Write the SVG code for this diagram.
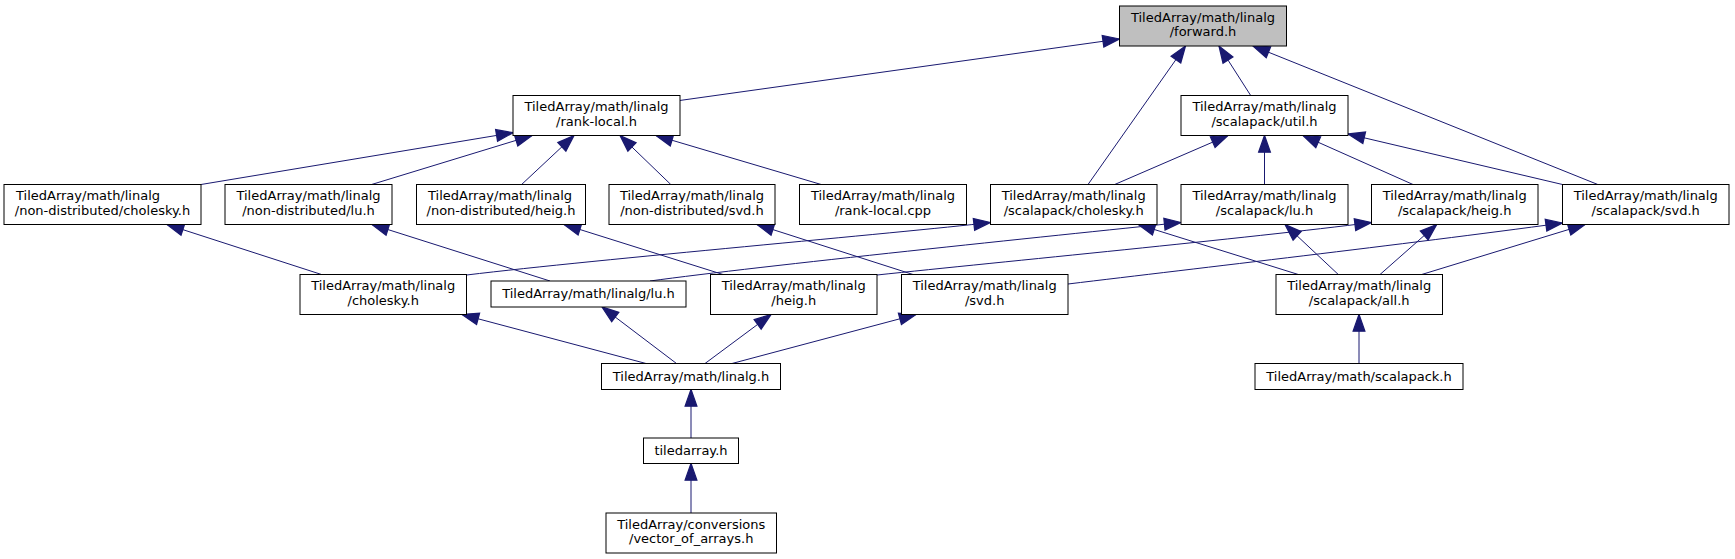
<svg xmlns="http://www.w3.org/2000/svg" width="1735" height="559" viewBox="0 0 1735 559">
<style>
.n rect{fill:#ffffff;stroke:#000000;stroke-width:1}
.n.hl rect{fill:#bfbfbf}
.n text{font-family:"DejaVu Sans","Liberation Sans",sans-serif;font-size:13px;fill:#000000;text-anchor:middle}
.n text.s{text-anchor:start}
.e path{fill:none;stroke:#191970;stroke-width:1;marker-end:url(#ah)}
</style>
<defs>
<marker id="ah" markerUnits="userSpaceOnUse" orient="auto" markerWidth="20" markerHeight="20" refX="0" refY="0" viewBox="-15 -7 16 14" overflow="visible">
<path d="M0,0 L-13.3,-4.7 L-13.3,4.7 Z" fill="#191970" stroke="#191970" stroke-width="1"/>
</marker>
</defs>
<rect width="1735" height="559" fill="#ffffff"/>
<g id="connectors" class="e">
<path d="M679.6,100.5 L1119.5,39"/>
<path d="M1088,184.5 L1185.5,46"/>
<path d="M1250.7,95.5 L1219,46"/>
<path d="M1597.8,184.5 L1253,46"/>
<path d="M201,184.5 L513,132.7"/>
<path d="M371.6,184.5 L532,135.5"/>
<path d="M521.6,184.5 L574,135.5"/>
<path d="M670.8,184.5 L620,135.5"/>
<path d="M821.2,184.5 L656,135.5"/>
<path d="M1114.7,184.5 L1228,135.5"/>
<path d="M1264.5,184.5 L1264.5,135.5"/>
<path d="M1413,184.5 L1303,135.5"/>
<path d="M1562.5,184.5 L1348,134"/>
<path d="M321.5,274.5 L167,224.5"/>
<path d="M550,281 L372,224.5"/>
<path d="M723,274.5 L564,224.5"/>
<path d="M913,274.5 L757,224.5"/>
<path d="M466.5,275 C600,259 900,233 990.5,222.5"/>
<path d="M1298.3,274.5 L1138.3,224.5"/>
<path d="M650,281 C760,266 1050,236 1181,222.5"/>
<path d="M877,275 C1000,262 1250,238 1371.5,222.5"/>
<path d="M1068,284 C1200,268 1400,245 1562.5,223"/>
<path d="M1338.3,274.5 L1285,224.5"/>
<path d="M1380,274.5 L1436.7,224.5"/>
<path d="M1421.7,274.5 L1585,224.5"/>
<path d="M1359,363.5 L1359,314.5"/>
<path d="M646,363.5 L462,314.5"/>
<path d="M676.5,363.5 L602,307"/>
<path d="M705,363.5 L771,314.5"/>
<path d="M732,363.5 L916,314.5"/>
<path d="M691,438 L691,389.5"/>
<path d="M691,513 L691,463.5"/>
</g>
<g id="forward" class="n hl"><rect x="1119.5" y="6" width="167" height="40"/><text x="1203" y="21.7">TiledArray/math/linalg</text><text x="1203" y="36">/forward.h</text></g>
<g id="rank_local_h" class="n"><rect x="513" y="95.5" width="167" height="40"/><text x="596.5" y="111.2">TiledArray/math/linalg</text><text x="596.5" y="125.5">/rank-local.h</text></g>
<g id="sc_util" class="n"><rect x="1181" y="95.5" width="167" height="40"/><text x="1264.5" y="111.2">TiledArray/math/linalg</text><text x="1264.5" y="125.5">/scalapack/util.h</text></g>
<g id="nd_cholesky" class="n"><rect x="4" y="184.5" width="197" height="40"/><text class="s" x="16" y="200.2">TiledArray/math/linalg</text><text x="102.5" y="214.5">/non-distributed/cholesky.h</text></g>
<g id="nd_lu" class="n"><rect x="225" y="184.5" width="167" height="40"/><text x="308.5" y="200.2">TiledArray/math/linalg</text><text x="308.5" y="214.5">/non-distributed/lu.h</text></g>
<g id="nd_heig" class="n"><rect x="416.5" y="184.5" width="169" height="40"/><text class="s" x="428" y="200.2">TiledArray/math/linalg</text><text x="501" y="214.5">/non-distributed/heig.h</text></g>
<g id="nd_svd" class="n"><rect x="609" y="184.5" width="166" height="40"/><text x="692" y="200.2">TiledArray/math/linalg</text><text x="692" y="214.5">/non-distributed/svd.h</text></g>
<g id="rank_local_cpp" class="n"><rect x="799.5" y="184.5" width="167" height="40"/><text x="883" y="200.2">TiledArray/math/linalg</text><text x="883" y="214.5">/rank-local.cpp</text></g>
<g id="sc_cholesky" class="n"><rect x="990.5" y="184.5" width="166.5" height="40"/><text x="1073.7" y="200.2">TiledArray/math/linalg</text><text x="1073.7" y="214.5">/scalapack/cholesky.h</text></g>
<g id="sc_lu" class="n"><rect x="1181" y="184.5" width="167" height="40"/><text x="1264.5" y="200.2">TiledArray/math/linalg</text><text x="1264.5" y="214.5">/scalapack/lu.h</text></g>
<g id="sc_heig" class="n"><rect x="1371.5" y="184.5" width="166.5" height="40"/><text x="1454.7" y="200.2">TiledArray/math/linalg</text><text x="1454.7" y="214.5">/scalapack/heig.h</text></g>
<g id="sc_svd" class="n"><rect x="1562.5" y="184.5" width="166.5" height="40"/><text x="1645.7" y="200.2">TiledArray/math/linalg</text><text x="1645.7" y="214.5">/scalapack/svd.h</text></g>
<g id="cholesky" class="n"><rect x="300" y="274.5" width="166.5" height="40"/><text x="383.2" y="290.2">TiledArray/math/linalg</text><text x="383.2" y="304.5">/cholesky.h</text></g>
<g id="lu" class="n"><rect x="491" y="281" width="195" height="26"/><text x="588.5" y="298">TiledArray/math/linalg/lu.h</text></g>
<g id="heig" class="n"><rect x="710.5" y="274.5" width="166.5" height="40"/><text x="793.7" y="290.2">TiledArray/math/linalg</text><text x="793.7" y="304.5">/heig.h</text></g>
<g id="svd" class="n"><rect x="901.5" y="274.5" width="166.5" height="40"/><text x="984.7" y="290.2">TiledArray/math/linalg</text><text x="984.7" y="304.5">/svd.h</text></g>
<g id="sc_all" class="n"><rect x="1276" y="274.5" width="166.5" height="40"/><text x="1359.2" y="290.2">TiledArray/math/linalg</text><text x="1359.2" y="304.5">/scalapack/all.h</text></g>
<g id="linalg" class="n"><rect x="601.5" y="363.5" width="179" height="26"/><text x="691" y="380.5">TiledArray/math/linalg.h</text></g>
<g id="scalapack" class="n"><rect x="1255" y="363.5" width="208" height="26"/><text x="1359" y="380.5">TiledArray/math/scalapack.h</text></g>
<g id="tiledarray" class="n"><rect x="643.5" y="438" width="95" height="25.5"/><text x="691" y="455">tiledarray.h</text></g>
<g id="vector_of_arrays" class="n"><rect x="606" y="513" width="170.5" height="40"/><text x="691.2" y="528.7">TiledArray/conversions</text><text x="691.2" y="543">/vector_of_arrays.h</text></g>
</svg>
